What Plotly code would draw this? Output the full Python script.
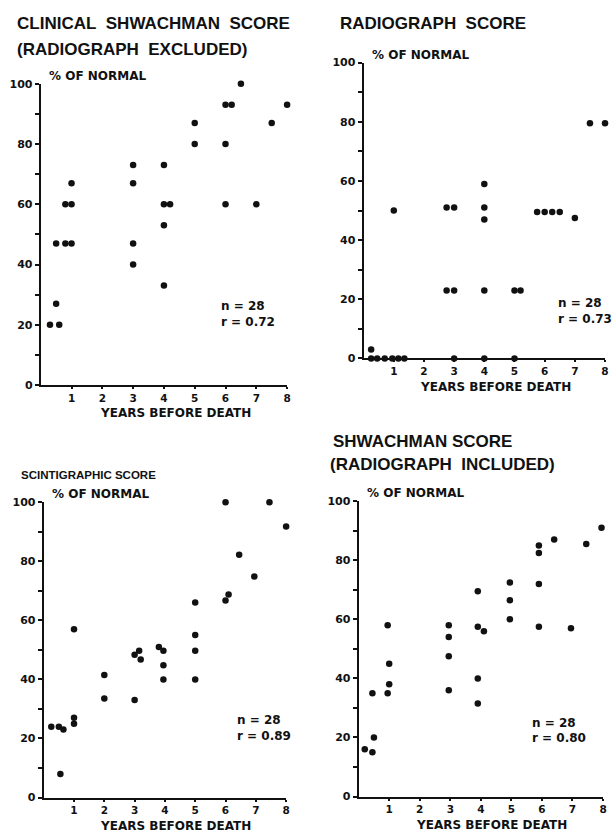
import plotly.graph_objects as go

W, H = 613, 838

# ---------------- data ----------------
clin_x = [0.3, 0.6, 0.5, 0.5, 0.8, 1.0, 0.8, 1.0, 1.0, 3, 3, 3, 3, 4, 4, 4.2, 4, 4,
          5, 5, 6, 6.2, 6, 6, 6.5, 7, 7.5, 8]
clin_y = [20, 20, 27, 47, 47, 47, 60, 60, 67, 73, 67, 47, 40, 73, 60, 60, 53, 33,
          87, 80, 93, 93, 80, 60, 100, 60, 87, 93]

radio_x = [0.25, 0.25, 0.45, 0.7, 0.95, 1.15, 1.35, 1.0, 2.75, 3.0, 2.75, 3.0, 3.0,
           4, 4, 4, 4, 4, 5, 5.2, 5, 5.75, 6, 6.25, 6.5, 7, 7.5, 8]
radio_y = [3, 0, 0, 0, 0, 0, 0, 50, 51, 51, 23, 23, 0,
           59, 51, 47, 23, 0, 23, 23, 0, 49.5, 49.5, 49.5, 49.5, 47.5, 79.5, 79.5]

scint_x = [0.25, 0.5, 0.65, 0.55, 1, 1, 1, 2, 2, 3, 3, 3.15, 3.2, 3.8, 3.95, 3.95, 3.95,
           5, 5, 5, 5, 6, 6, 6.1, 6.45, 6.95, 7.45, 8]
scint_y = [24, 24, 23, 8, 27, 25, 57, 41.5, 33.5, 33, 48.3, 49.7, 46.7, 51, 49.7, 44.8, 40,
           66, 55, 49.7, 40, 100, 66.7, 68.7, 82.2, 74.8, 100, 91.8]

shw_x = [0.2, 0.45, 0.5, 0.45, 0.95, 1, 1, 0.95, 2.95, 2.95, 2.95, 2.95, 3.9, 3.9, 4.1,
         3.9, 3.9, 4.95, 4.95, 4.95, 5.9, 5.9, 5.9, 5.9, 6.4, 6.95, 7.45, 7.95]
shw_y = [16, 15, 20, 35, 35, 38, 45, 58, 58, 54, 47.5, 36, 69.5, 57.5, 56,
         40, 31.5, 72.5, 66.5, 60, 85, 82.5, 72, 57.5, 87, 57, 85.5, 91]

x_tick_vals = [1, 2, 3, 4, 5, 6, 7, 8]
x_tick_text = ["1", "2", "3", "4", "5", "6", "7", "8"]
y_tick_vals = [0, 10, 20, 30, 40, 50, 60, 70, 80, 90, 100]
y_tick_text = ["0", "", "20", "", "40", "", "60", "", "80", "", "100"]

stats = [("n = 28", "r = 0.72"), ("n = 28", "r = 0.73"),
         ("n = 28", "r = 0.89"), ("n = 28", "r = 0.80")]
x_title = "YEARS BEFORE DEATH"
y_title = "% OF NORMAL"

# ---------------- layout geometry (pixels) ----------------
# (x px at 0, x px at 8, y px at 0, y px at 100)
panels = [
    (41, 289, 385, 79),
    (366, 609, 358, 57.5),
    (44, 288, 804, 504),
    (361, 607, 803, 503),
]
series = [(clin_x, clin_y), (radio_x, radio_y), (scint_x, scint_y), (shw_x, shw_y)]

def px(x):
    return x / W

def py(y):
    return 1 - y / H

INK = "#111111"
FAM = "DejaVu Sans"
TICKFONT = dict(family=FAM, size=11, color=INK, weight="bold")
XTICKFONT = dict(family=FAM, size=10.5, color=INK, weight="bold")

fig = go.Figure()
layout = dict(width=W, height=H, margin=dict(l=0, r=0, t=0, b=0),
              paper_bgcolor="white", plot_bgcolor="white", showlegend=False)
annotations = []

for i, ((x0, x8, y0, y100), (xs, ys)) in enumerate(zip(panels, series)):
    n = "" if i == 0 else str(i + 1)
    fig.add_trace(go.Scatter(x=xs, y=ys, mode="markers", xaxis="x" + n, yaxis="y" + n,
                             marker=dict(size=6.5, color=INK), cliponaxis=False,
                             hoverinfo="x+y"))
    layout["xaxis" + n] = dict(domain=[px(x0), px(x8)], range=[0, 8], anchor="y" + n,
                               showgrid=False, zeroline=False, showline=True,
                               linewidth=2, linecolor=INK, ticks="outside", ticklen=2,
                               tickwidth=1.5, tickcolor=INK,
                               tickvals=x_tick_vals, ticktext=x_tick_text,
                               tickfont=XTICKFONT, fixedrange=True)
    layout["yaxis" + n] = dict(domain=[py(y0), py(y100)], range=[0, 100], anchor="x" + n,
                               showgrid=False, zeroline=False, showline=True,
                               linewidth=2, linecolor=INK, ticks="outside", ticklen=4,
                               tickwidth=1.5, tickcolor=INK,
                               tickvals=y_tick_vals, ticktext=y_tick_text,
                               tickfont=TICKFONT, fixedrange=True)
    # % OF NORMAL
    annotations.append(dict(text=y_title, xref="paper", yref="paper",
                            x=px(x0 + 6), y=py(y100 - 8), xanchor="left", yanchor="middle",
                            showarrow=False,
                            font=dict(family=FAM, size=12, color=INK, weight="bold")))
    # YEARS BEFORE DEATH
    annotations.append(dict(text=x_title, xref="paper", yref="paper",
                            x=px(x0 + (x8 - x0) * 0.545), y=py(y0 + 28.5), xanchor="center",
                            yanchor="middle", showarrow=False,
                            font=dict(family=FAM, size=12, color=INK, weight="bold")))

# stats texts (left x px, top line y px)
stat_pos = [(220, 305), (560, 302), (237, 725), (533, 728)]
for (n_txt, r_txt), (sx, sy) in zip(stats, stat_pos):
    for k, t in enumerate((n_txt, r_txt)):
        annotations.append(dict(text=t, xref="paper", yref="paper",
                                x=px(sx), y=py(sy + 16 * k), xanchor="left", yanchor="middle",
                                showarrow=False,
                                font=dict(family=FAM, size=12, color=INK, weight="bold")))

# panel titles (text, left px, center y px, size)
titles = [
    ("CLINICAL  SHWACHMAN  SCORE", 15, 18, 17),
    ("(RADIOGRAPH  EXCLUDED)", 15, 44, 17),
    ("RADIOGRAPH  SCORE", 340, 18, 17),
    ("SCINTIGRAPHIC SCORE", 19, 476, 11.5),
    ("SHWACHMAN SCORE", 333, 442, 17),
    ("(RADIOGRAPH  INCLUDED)", 330, 466, 17),
]
for t, tx, ty, ts in titles:
    annotations.append(dict(text=t.replace("  ", "\u00a0 "),
                            xref="paper", yref="paper",
                            x=px(tx), y=py(ty), xanchor="left", yanchor="middle",
                            showarrow=False,
                            font=dict(family="Liberation Sans", size=ts, color=INK,
                                      weight="bold")))

layout["annotations"] = annotations
fig.update_layout(**layout)
fig.write_html(
    "out.html",
    config={"displayModeBar": False},
    post_script="document.body.style.margin='0';"
                "document.documentElement.style.overflow='hidden';",
)
